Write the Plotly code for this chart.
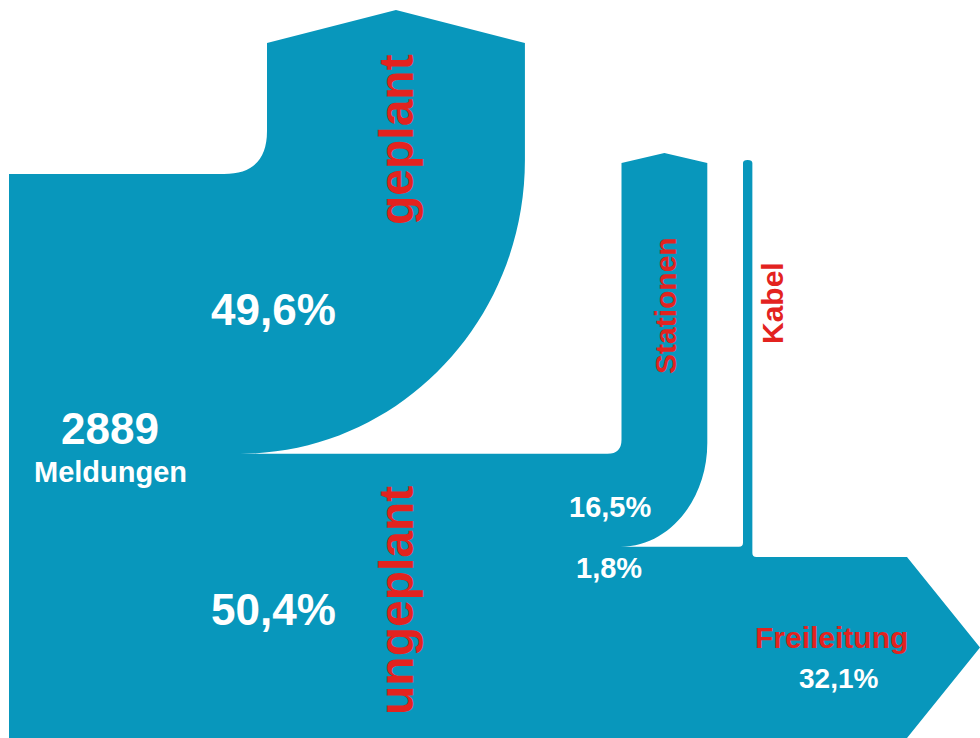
import plotly.graph_objects as go

# --- data -------------------------------------------------------------
total_reports = 2889
planning_labels = ["geplant", "ungeplant"]
planning_shares = [49.6, 50.4]            # % of all reports
cause_labels = ["Stationen", "Kabel", "Freileitung"]
cause_shares = [16.5, 1.8, 32.1]          # % of all reports (unplanned part)

# --- layout constants (pixels on a 980 x 738 canvas) --------------------
W, H = 980, 738
BLUE = "#0897bc"
RED = "#e3231f"
WHITE = "#ffffff"
FONT = "Liberation Sans"

X_LEFT = 9
Y_TOP = 174
PX_PER_PCT_Y = 5.64      # thickness of horizontal bands
PX_PER_PCT_X = 5.2       # thickness of vertical bands

# band thicknesses derived from the shares
t_gep, t_ung = [s * PX_PER_PCT_Y for s in planning_shares]
t_sta, t_kab, t_fre = [s * PX_PER_PCT_Y for s in cause_shares]
w_gep = planning_shares[0] * PX_PER_PCT_X
w_sta = cause_shares[0] * PX_PER_PCT_X
w_kab = cause_shares[1] * PX_PER_PCT_X

y_gep = Y_TOP + t_gep            # bottom of "geplant" band
y_sta = y_gep + t_sta            # bottom of "Stationen" band
y_kab = y_sta + t_kab            # bottom of "Kabel" band
y_fre = y_kab + t_fre            # bottom of "Freileitung" band

# x positions of the vertical branches
gx0 = 267.0; gx1 = gx0 + w_gep
sx0 = 621.5; sx1 = sx0 + w_sta
kx0 = 743.0; kx1 = kx0 + w_kab
fx_tip = 980.0

# arrow heads
g_top, g_peak = 43.0, 10.0
s_top, s_peak = 163.0, 153.0
k_top = 160.0
f_depth = 73.0

K = 0.5523  # cubic approximation of a quarter ellipse
join_x = 240.0  # where the outer "geplant" curve meets the trunk

def quarter(x_start, y_start, x_end, y_end):
    """Quarter ellipse going down from a vertical edge to a horizontal edge."""
    rx = x_start - x_end
    ry = y_end - y_start
    return (f"C {x_start},{y_start + K * ry} {x_end + K * rx},{y_end} "
            f"{x_end},{y_end} ")

g_curve_start = 160.0
s_curve_start = 443.0
r_small = 43.0
r_tiny = 14.0

path = (
    f"M {X_LEFT},{Y_TOP} "
    f"L {gx0 - r_small},{Y_TOP} "
    f"Q {gx0},{Y_TOP} {gx0},{Y_TOP - r_small} "
    f"L {gx0},{g_top} "
    f"L {(gx0 + gx1) / 2},{g_peak} "
    f"L {gx1},{g_top} "
    f"L {gx1},{g_curve_start} "
    + quarter(gx1, g_curve_start, join_x, y_gep) +
    f"L {sx0 - r_tiny},{y_gep} "
    f"Q {sx0},{y_gep} {sx0},{y_gep - r_tiny} "
    f"L {sx0},{s_top} "
    f"L {(sx0 + sx1) / 2},{s_peak} "
    f"L {sx1},{s_top} "
    f"L {sx1},{s_curve_start} "
    + quarter(sx1, s_curve_start, sx0 - 1, y_sta) +
    f"L {kx0 - 4},{y_sta} "
    f"Q {kx0},{y_sta} {kx0},{y_sta - 4} "
    f"L {kx0},{k_top + 3} "
    f"Q {kx0},{k_top} {(kx0 + kx1) / 2},{k_top} "
    f"Q {kx1},{k_top} {kx1},{k_top + 3} "
    f"L {kx1},{y_kab - 4} "
    f"Q {kx1},{y_kab} {kx1 + 4},{y_kab} "
    f"L {fx_tip - f_depth},{y_kab} "
    f"L {fx_tip},{(y_kab + y_fre) / 2} "
    f"L {fx_tip - f_depth},{y_fre} "
    f"L {X_LEFT},{y_fre} Z"
)

fig = go.Figure()
fig.add_shape(type="path", path=path, xref="x", yref="y",
              fillcolor=BLUE, line=dict(width=0), layer="below")


def pct(v):
    return f"{v:.1f}%".replace(".", ",")


def label(x, y, text, size, color, angle=0):
    fig.add_annotation(x=x, y=y, xref="x", yref="y", text=f"<b>{text}</b>",
                       showarrow=False, textangle=angle,
                       font=dict(family=FONT, size=size, color=color),
                       xanchor="center", yanchor="middle")


# branch names
label(396, 140, planning_labels[0], 48, RED, -90)
label(396, 601, planning_labels[1], 48, RED, -90)
label(665, 306, cause_labels[0], 30, RED, -90)
label(772, 303, cause_labels[1], 30, RED, -90)
label(831, 637, cause_labels[2], 30, RED)

# values
label(273, 309, pct(planning_shares[0]), 44, WHITE)
label(273, 609, pct(planning_shares[1]), 44, WHITE)
label(110, 428, str(total_reports), 44, WHITE)
label(110, 472, "Meldungen", 29, WHITE)
label(610, 507, pct(cause_shares[0]), 29, WHITE)
label(609, 568, pct(cause_shares[1]), 29, WHITE)
label(838, 678, pct(cause_shares[2]), 28, WHITE)

fig.update_xaxes(range=[0, W], visible=False, fixedrange=True)
fig.update_yaxes(range=[H, 0], visible=False, fixedrange=True)
fig.update_layout(width=W, height=H, margin=dict(l=0, r=0, t=0, b=0),
                  paper_bgcolor=WHITE, plot_bgcolor=WHITE, showlegend=False)

fig.write_html("out.html")
